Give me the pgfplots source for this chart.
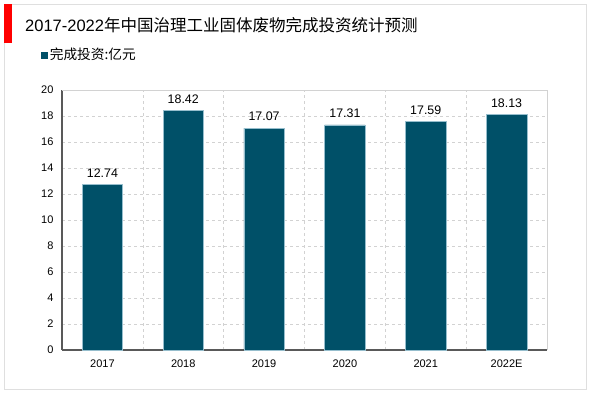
\documentclass[border=0pt]{standalone}
\usepackage{pgfplots}
\pgfplotsset{compat=1.18}
\usepackage{fontspec}
\setmainfont{Liberation Sans}
\newfontfamily\cjk{Noto Sans CJK SC}
\definecolor{barcol}{RGB}{0,80,104}
\definecolor{baredge}{RGB}{150,190,205}
\definecolor{axcol}{RGB}{89,89,89}
\definecolor{gridcol}{RGB}{210,210,210}
\begin{document}
\begin{tikzpicture}
\useasboundingbox (0pt,0pt) rectangle (600pt,393pt);
\draw[gridcol!70,line width=0.8pt] (4pt,3.5pt) rectangle (586pt,389pt);
\fill[red] (4pt,350pt) rectangle (12pt,388.5pt);
\node[anchor=west,inner sep=0pt,font=\fontsize{16.5}{18}\selectfont] at (25pt,367.5pt) {2017-2022{\cjk 年中国治理工业固体废物完成投资统计预测}};
\begin{axis}[
  at={(62pt,43pt)}, anchor=south west,
  scale only axis, width=485pt, height=260pt,
  xmin=-0.5, xmax=5.5, ymin=0, ymax=20,
  ytick={0,2,...,20},
  xtick={0,...,5},
  xticklabels={2017,2018,2019,2020,2021,2022E},
  minor xtick={0.5,1.5,...,4.5},
  xminorgrids=true, ymajorgrids=true,
  major grid style={gridcol,dashed,line width=0.6pt},
  minor grid style={gridcol,dashed,line width=0.6pt},
  major tick length=0pt, minor tick length=0pt,
  axis x line*=bottom, axis y line*=left,
  axis line style={axcol,line width=1.2pt,-},
  /pgf/number format/assume math mode=true,
  tick label style={font=\fontsize{11}{13}\selectfont},
  xticklabel style={yshift=-6pt},
  yticklabel style={xshift=-5pt},
  ybar, bar width=0.5,
  nodes near coords,
  nodes near coords style={font=\fontsize{12.4}{14}\selectfont,yshift=3.5pt,/pgf/number format/.cd,fixed,fixed zerofill,precision=2},
  legend style={at={(rel axis cs:-0.043,1.135)},anchor=west,draw=none,fill=none,
     font=\fontsize{13.7}{15}\selectfont\cjk,inner sep=0pt,
     /tikz/every even column/.append style={column sep=2pt}},
  legend image code/.code={\fill[barcol] (0pt,-3pt) rectangle (6pt,3pt);},
  after end axis/.code={\draw[gridcol,line width=0.8pt] (rel axis cs:0,1) -- (rel axis cs:1,1) -- (rel axis cs:1,0);},
  clip=false,
]
\addplot[fill=barcol,draw=baredge,line width=0.5pt] coordinates {(0,12.74) (1,18.42) (2,17.07) (3,17.31) (4,17.59) (5,18.13)};
\addlegendentry{完成投资:亿元}
\end{axis}
\end{tikzpicture}
\end{document}
